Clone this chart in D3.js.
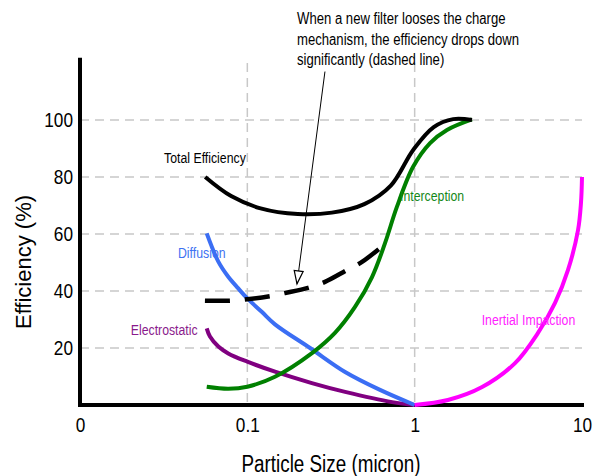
<!DOCTYPE html>
<html>
<head>
<meta charset="utf-8">
<script src="https://cdn.jsdelivr.net/npm/d3@7"></script>
<style>
  html, body { margin: 0; padding: 0; background: #fff; }
  svg { display: block; }
  text { font-family: "Liberation Sans", Arial, sans-serif; }
</style>
</head>
<body>
<svg id="chart" width="593" height="476"></svg>
<script>
// ---- data (particle size in micron, efficiency in %) ----
const xTickValues = [0.01, 0.1, 1, 10];
const xTickLabels = ["0", "0.1", "1", "10"];
const yTickValues = [20, 40, 60, 80, 100];
const xGridValues = [0.1, 1];

const totalEfficiency = [[0.056,80],[0.08,73.3],[0.12,69],[0.2,67],[0.32,67.5],[0.5,70.5],[0.72,77],[0.98,89.5],[1.3,97.5],[1.7,100.3],[2.2,100]];
const withoutCharge = [[0.0558,36.6],[0.0787,36.6],[0.1,37.1],[0.1366,38.2],[0.168,39.3],[0.2305,41.1],[0.291,43.2],[0.395,47.4],[0.4844,50.2],[0.665,56.5]];
const diffusion = [[0.0572,60.2],[0.0671,50.3],[0.0769,45.0],[0.0883,40.9],[0.1,37.4],[0.1219,32.7],[0.1463,28.3],[0.237,20],[0.384,11.6],[0.621,5.3],[1,0]];
const electrostatic = [[0.0572,26.9],[0.0598,24.0],[0.0671,20.5],[0.0769,18.1],[0.1,15.2],[0.1463,11.7],[0.243,7.7],[0.384,4.6],[0.733,1.0],[1,0]];
const interception = [[0.0572,6.4],[0.0769,5.7],[0.1,6.4],[0.1463,9.9],[0.2434,18.2],[0.334,25.3],[0.44,34.4],[0.556,44.9],[0.665,56.8],[0.783,69.5],[0.977,83.5],[1.236,91.9],[1.56,96.5],[2.2,100.2]];
const inertialImpaction = [[1,0],[1.58,1.75],[2.53,6.3],[3.98,14.7],[5.46,25.3],[6.9,35.8],[8.25,47.4],[9.47,61.4],[9.86,70.9],[10,80]];

const seriesLabels = [
  {text: "Total Efficiency", x: 0.0318, y: 84.9, color: "#000000"},
  {text: "Diffusion", x: 0.0385, y: 51.6, color: "#3d72f2"},
  {text: "Electrostatic", x: 0.0201, y: 24.6, color: "#8a1a8c"},
  {text: "Interception", x: 0.817, y: 71.7, color: "#14881a"},
  {text: "Inertial Impaction", x: 2.515, y: 28.1, color: "#ff22ff"}
];
const noteLines = ["When a new filter looses the charge", "mechanism, the efficiency drops down", "significantly (dashed line)"];
const noteArrow = {from: [0.291, 117], to: [0.198, 42.5]};

// ---- layout ----
const NARROW = 0.82;
const svg = d3.select("#chart");
const x = d3.scaleLog().domain([0.01, 10]).range([80, 582]);
const y = d3.scaleLinear().domain([0, 120]).range([405, 63]);

// grid
const grid = svg.append("g").attr("stroke", "#c8c8c8").attr("stroke-width", 1.5).attr("stroke-dasharray", "9,6");
grid.selectAll("line.h").data(yTickValues).join("line")
  .attr("x1", x(0.01)).attr("x2", x(10)).attr("y1", d => y(d)).attr("y2", d => y(d));
grid.selectAll("line.v").data(xGridValues).join("line")
  .attr("x1", d => x(d)).attr("x2", d => x(d)).attr("y1", y(120)).attr("y2", y(0));

// axes
const xAxis = d3.axisBottom(x).tickValues(xTickValues).tickFormat((d, i) => xTickLabels[i]).tickSize(0).tickPadding(0);
const gx = svg.append("g").attr("transform", `translate(0,${y(0)})`).call(xAxis);
gx.select(".domain").attr("stroke", "#000").attr("stroke-width", 4).attr("d", `M${x(0.01)-2},0H${x(10)+2}`);
gx.selectAll(".tick text").attr("font-size", 21).attr("fill", "#000")
  .attr("x", 0).attr("y", 0).attr("dy", null).attr("transform", `translate(0,27) scale(${NARROW},1)`);

const yAxis = d3.axisLeft(y).tickValues(yTickValues).tickSize(0).tickPadding(0);
const gy = svg.append("g").attr("transform", `translate(${x(0.01)},0)`).call(yAxis);
gy.select(".domain").attr("stroke", "#000").attr("stroke-width", 4).attr("d", `M0,${y(121.8)}V${y(0)+2}`);
gy.selectAll(".tick text").attr("font-size", 21).attr("fill", "#000")
  .attr("x", 0).attr("transform", `translate(-7,0) scale(${NARROW},1)`);

// axis titles
svg.append("text").attr("transform", `translate(331,472) scale(${NARROW},1)`).attr("text-anchor", "middle")
  .attr("font-size", 23).attr("fill", "#000").text("Particle Size (micron)");
svg.append("text").attr("transform", "translate(31,262) rotate(-90)").attr("text-anchor", "middle")
  .attr("font-size", 22).attr("fill", "#000").text("Efficiency (%)");

// curves
const line = d3.line().x(d => x(d[0])).y(d => y(d[1])).curve(d3.curveCatmullRom.alpha(0.5));
const curves = [
  {data: electrostatic, color: "#800080"},
  {data: diffusion, color: "#3b6ef4"},
  {data: interception, color: "#008000"},
  {data: inertialImpaction, color: "#ff00ff"},
  {data: totalEfficiency, color: "#000000"}
];
svg.append("g").selectAll("path").data(curves).join("path")
  .attr("d", d => line(d.data)).attr("fill", "none").attr("stroke", d => d.color).attr("stroke-width", 4);
svg.append("path").attr("d", line(withoutCharge)).attr("fill", "none").attr("stroke", "#000")
  .attr("stroke-width", 4.5).attr("stroke-dasharray", "25,15");

// series labels
svg.append("g").selectAll("text").data(seriesLabels).join("text")
  .attr("transform", d => `translate(${x(d.x)},${y(d.y)}) scale(${NARROW},1)`)
  .attr("font-size", 15).attr("fill", d => d.color).text(d => d.text);

// annotation
svg.append("g").selectAll("text").data(noteLines).join("text")
  .attr("transform", (d, i) => `translate(297,${24 + i * 20.5}) scale(${NARROW},1)`)
  .attr("font-size", 16).attr("fill", "#000").text(d => d);

const ax1 = x(noteArrow.from[0]), ay1 = y(noteArrow.from[1]);
const ax2 = x(noteArrow.to[0]), ay2 = y(noteArrow.to[1]);
svg.append("line").attr("x1", ax1).attr("y1", ay1).attr("x2", ax2).attr("y2", ay2)
  .attr("stroke", "#000").attr("stroke-width", 1);
const ang = Math.atan2(ay2 - ay1, ax2 - ax1) * 180 / Math.PI;
svg.append("path").attr("d", "M0,0L-13,-4.5L-13,4.5Z")
  .attr("transform", `translate(${ax2},${ay2}) rotate(${ang})`)
  .attr("fill", "#fff").attr("stroke", "#000").attr("stroke-width", 1.2);
</script>
</body>
</html>
